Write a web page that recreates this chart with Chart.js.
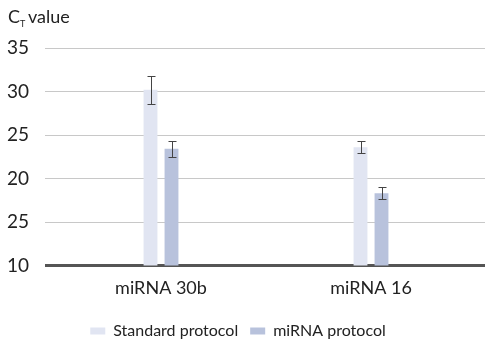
<!DOCTYPE html>
<html>
<head>
<meta charset="utf-8">
<script src="https://cdn.jsdelivr.net/npm/chart.js@4/dist/chart.umd.min.js"></script>
<style>
  html, body { margin: 0; padding: 0; background: #fff; }
  #wrap { width: 485px; height: 344px; position: relative; }
</style>
</head>
<body>
<div id="wrap"><canvas id="chartCt"></canvas></div>
<script>
'use strict';

var categories = ['miRNA 30b', 'miRNA 16'];
var standardValues = [30.2, 23.6];
var standardErrors = [1.6, 0.7];
var mirnaValues = [23.4, 18.3];
var mirnaErrors = [0.95, 0.7];
// tick labels as printed in the original (including its second "25")
var tickValues = [10, 15, 20, 25, 30, 35];
var tickLabels = ['10', '25', '20', '25', '30', '35'];

var FONT = 'Lato, "Open Sans", sans-serif';

// horizontal gridlines run from the axis labels to the right edge
var gridLines = {
  id: 'gridLines',
  beforeDatasetsDraw: function (chart) {
    var ctx = chart.ctx;
    var yScale = chart.scales.y;
    ctx.save();
    tickValues.forEach(function (v) {
      var y = Math.round(yScale.getPixelForValue(v));
      if (v === 10) {
        ctx.fillStyle = '#555';
        ctx.fillRect(45, y - 1, chart.width - 45, 3);
      } else {
        ctx.fillStyle = '#c8c8c8';
        ctx.fillRect(45, y, chart.width - 45, 1);
      }
    });
    ctx.restore();
  }
};

var errorBars = {
  id: 'errorBars',
  afterDatasetsDraw: function (chart) {
    var ctx = chart.ctx;
    var yScale = chart.scales.y;
    ctx.save();
    ctx.strokeStyle = '#444';
    ctx.lineWidth = 1;
    chart.data.datasets.forEach(function (ds, di) {
      var meta = chart.getDatasetMeta(di);
      meta.data.forEach(function (bar, i) {
        var v = ds.data[i];
        var e = ds.errors[i];
        var x = Math.round(bar.x) + 0.5;
        var yTop = Math.round(yScale.getPixelForValue(v + e)) + 0.5;
        var yBot = Math.round(yScale.getPixelForValue(v - e)) + 0.5;
        ctx.beginPath();
        ctx.moveTo(x, yTop); ctx.lineTo(x, yBot);
        ctx.moveTo(x - 4, yTop); ctx.lineTo(x + 4, yTop);
        ctx.moveTo(x - 4, yBot); ctx.lineTo(x + 4, yBot);
        ctx.stroke();
      });
    });
    ctx.restore();
  }
};

var ctTitle = {
  id: 'ctTitle',
  afterDraw: function (chart) {
    var ctx = chart.ctx;
    ctx.save();
    ctx.fillStyle = '#222';
    ctx.textBaseline = 'alphabetic';
    ctx.font = '18px ' + FONT;
    ctx.fillText('C', 8, 23);
    ctx.font = '9px ' + FONT;
    ctx.fillText('T', 20, 27);
    ctx.font = '18px ' + FONT;
    ctx.fillText('value', 28, 23);
    ctx.restore();
  }
};

new Chart(document.getElementById('chartCt').getContext('2d'), {
  type: 'bar',
  data: {
    labels: categories,
    datasets: [{
      label: 'Standard protocol',
      data: standardValues,
      errors: standardErrors,
      backgroundColor: '#e1e5f2',
      categoryPercentage: 0.2,
      barPercentage: 0.66
    }, {
      label: 'miRNA protocol',
      data: mirnaValues,
      errors: mirnaErrors,
      backgroundColor: '#b8c2dc',
      categoryPercentage: 0.2,
      barPercentage: 0.66
    }]
  },
  options: {
    animation: false,
    responsive: true,
    maintainAspectRatio: false,
    layout: { padding: { top: 48, right: 9, left: 0, bottom: -5 } },
    scales: {
      x: {
        grid: { display: false },
        border: { display: false },
        afterFit: function (axis) { axis.height += 8; },
        ticks: { color: '#222', font: { family: FONT, size: 18 }, padding: 4 }
      },
      y: {
        min: 10,
        max: 35,
        afterBuildTicks: function (axis) {
          axis.ticks = tickValues.map(function (v) { return { value: v }; });
        },
        afterFit: function (axis) { axis.width = 56; },
        border: { display: false },
        grid: { display: false },
        ticks: {
          color: '#222',
          padding: 19,
          font: { family: FONT, size: 19 },
          callback: function (v) {
            var i = tickValues.indexOf(v);
            return i >= 0 ? tickLabels[i] : '';
          }
        }
      }
    },
    plugins: {
      legend: {
        position: 'bottom',
        labels: {
          color: '#222',
          boxWidth: 15,
          boxHeight: 7,
          padding: 12,
          font: { family: FONT, size: 16 }
        }
      },
      tooltip: { enabled: false }
    }
  },
  plugins: [gridLines, errorBars, ctTitle]
});
</script>
</body>
</html>
